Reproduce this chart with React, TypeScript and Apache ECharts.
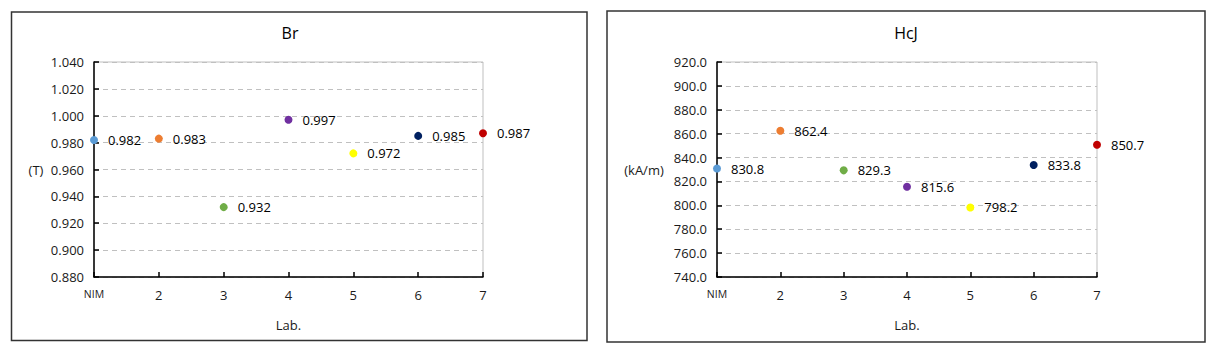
import React, { useEffect, useRef } from "react";
import * as echarts from "echarts";

const labs = [1, 2, 3, 4, 5, 6, 7];
const xTickNames: Record<number, string> = { 1: "NIM", 2: "2", 3: "3", 4: "4", 5: "5", 6: "6", 7: "7" };
const pointColors = ["#5B9BD5", "#ED7D31", "#70AD47", "#7030A0", "#FFFF00", "#002060", "#C00000"];
const brValues = [0.982, 0.983, 0.932, 0.997, 0.972, 0.985, 0.987];
const hcjValues = [830.8, 862.4, 829.3, 815.6, 798.2, 833.8, 850.7];

const FONT = "Open Sans";

function xAxis(gridIndex: number) {
  return {
    type: "value",
    gridIndex,
    min: 1,
    max: 7,
    interval: 1,
    name: "Lab.",
    nameLocation: "middle",
    nameGap: 41,
    nameTextStyle: { fontFamily: FONT, fontSize: 13, color: "#1a1a1a" },
    axisLine: { lineStyle: { color: "#000", width: 1.5 } },
    axisTick: { inside: true, length: 5, lineStyle: { color: "#000", width: 1.5 } },
    splitLine: { show: false },
    axisLabel: {
      margin: 11,
      fontFamily: FONT,
      fontSize: 13,
      color: "#1a1a1a",
      formatter: (v: number) => (v === 1 ? "{s|NIM}" : xTickNames[v] || ""),
      rich: { s: { fontFamily: FONT, fontSize: 10.5, color: "#1a1a1a" } },
    },
  };
}

function yAxis(gridIndex: number, min: number, max: number, interval: number, digits: number) {
  return {
    type: "value",
    gridIndex,
    min,
    max,
    interval,
    axisLine: { show: true, lineStyle: { color: "#000", width: 1.5 } },
    axisTick: { show: true, inside: true, length: 5, lineStyle: { color: "#000", width: 1.5 } },
    splitLine: { show: true, lineStyle: { color: "#c0c0c0", type: [5, 4], width: 1 } },
    axisLabel: {
      margin: 10,
      fontFamily: FONT,
      fontSize: 13,
      color: "#1a1a1a",
      formatter: (v: number) => v.toFixed(digits),
    },
  };
}

function series(idx: number, values: number[], digits: number) {
  return {
    type: "scatter",
    xAxisIndex: idx,
    yAxisIndex: idx,
    symbolSize: 8,
    data: values.map((v, i) => ({
      value: [labs[i], v],
      itemStyle: { color: pointColors[i], opacity: 1 },
    })),
    label: {
      show: true,
      position: "right",
      distance: 10,
      fontFamily: FONT,
      fontSize: 13,
      color: "#000",
      formatter: (p: any) => Number(p.value[1]).toFixed(digits),
    },
  };
}

export default function App() {
  const ref = useRef<HTMLDivElement>(null);
  useEffect(() => {
    if (!ref.current) return;
    const chart = echarts.init(ref.current, null, { renderer: "svg" });
    chart.setOption({
      animation: false,
      backgroundColor: "#fff",
      grid: [
        { left: 94, right: 1218 - 483, top: 62, bottom: 359 - 277, show: true, borderColor: "#bfbfbf", borderWidth: 1 },
        { left: 717, right: 1218 - 1097, top: 62, bottom: 359 - 277, show: true, borderColor: "#bfbfbf", borderWidth: 1 },
      ],
      xAxis: [xAxis(0), xAxis(1)],
      yAxis: [yAxis(0, 0.88, 1.04, 0.02, 3), yAxis(1, 740, 920, 20, 1)],
      series: [series(0, brValues, 3), series(1, hcjValues, 1)],
      graphic: [
        { type: "rect", shape: { x: 11.5, y: 12, width: 575.5, height: 328.5 }, style: { fill: "none", stroke: "#333", lineWidth: 1.5 }, z: 100 },
        { type: "rect", shape: { x: 607, y: 11, width: 598, height: 331 }, style: { fill: "none", stroke: "#333", lineWidth: 1.5 }, z: 100 },
        { type: "text", x: 290, y: 33, style: { text: "Br", fontFamily: FONT, fontSize: 16, fill: "#000", textAlign: "center", textVerticalAlign: "middle" } },
        { type: "text", x: 906, y: 33, style: { text: "HcJ", fontFamily: FONT, fontSize: 16, fill: "#000", textAlign: "center", textVerticalAlign: "middle" } },
        { type: "text", x: 36, y: 170, style: { text: "(T)", fontFamily: FONT, fontSize: 13, fill: "#1a1a1a", textAlign: "center", textVerticalAlign: "middle" } },
        { type: "text", x: 644, y: 170, style: { text: "(kA/m)", fontFamily: FONT, fontSize: 13, fill: "#1a1a1a", textAlign: "center", textVerticalAlign: "middle" } },
      ],
    });
    return () => chart.dispose();
  }, []);
  return (
    <div
      ref={ref}
      style={{ position: "fixed", left: 0, top: 0, width: 1218, height: 359, background: "#fff" }}
    />
  );
}
